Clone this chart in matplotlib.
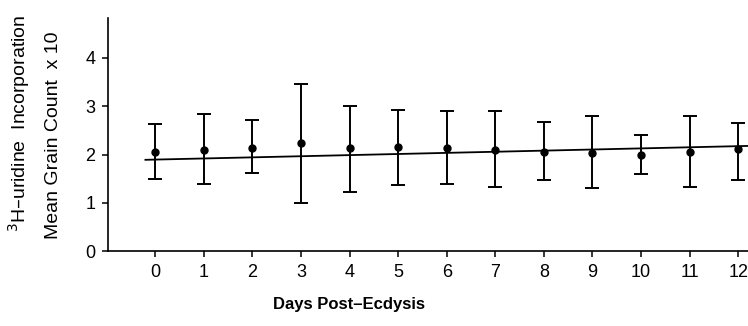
# Plot graph: 3H-uridine incorporation vs days post-ecdysis

import matplotlib
matplotlib.use('Agg')
import matplotlib.pyplot as plt
import numpy as np

days = [0, 1, 2, 3, 4, 5, 6, 7, 8, 9, 10, 11, 12]
mean_count = [2.05, 2.10, 2.14, 2.23, 2.14, 2.15, 2.13, 2.10, 2.05, 2.04, 2.00, 2.05, 2.12]
err_upper = [2.63, 2.84, 2.71, 3.47, 3.01, 2.92, 2.91, 2.91, 2.68, 2.80, 2.41, 2.80, 2.65]
err_lower = [1.49, 1.38, 1.61, 0.99, 1.23, 1.37, 1.38, 1.33, 1.47, 1.31, 1.59, 1.33, 1.47]

# regression line end points
fit_x = [-0.2, 12.3]
fit_y = [1.89, 2.18]

plt.rcParams['font.family'] = ['Liberation Sans', 'DejaVu Sans']

fig = plt.figure(figsize=(7.48, 3.26), dpi=100)
ax = fig.add_axes([0.1444, 0.230, 0.8556, 0.715])

means = np.array(mean_count)
yerr = [means - np.array(err_lower), np.array(err_upper) - means]
ax.errorbar(days, mean_count, yerr=yerr, fmt='o', color='black', ms=5,
            elinewidth=1.4, capsize=5, capthick=1.4, zorder=3)
ax.plot(fit_x, fit_y, color='black', lw=1.3)

ax.set_xlim(-0.97, 12.2)
ax.set_ylim(0, 4.83)
ax.set_xticks(days)
ax.set_yticks([0, 1, 2, 3, 4])
ax.spines['top'].set_visible(False)
ax.spines['right'].set_visible(False)
ax.spines['left'].set_linewidth(1.2)
ax.spines['bottom'].set_linewidth(1.2)
ax.tick_params(axis='both', labelsize=13, width=1.1, length=4, pad=5)

fig.text(0.467, 0.065, 'Days Post\u2013Ecdysis', ha='center', va='center',
         fontsize=12, fontweight='bold')
fig.text(0.026, 0.62, '$^3$H\u2013uridine  Incorporation', rotation=90,
         ha='center', va='center', fontsize=14)
fig.text(0.071, 0.585, 'Mean Grain Count  x 10', rotation=90,
         ha='center', va='center', fontsize=14)

plt.savefig('out.png', dpi=100)
